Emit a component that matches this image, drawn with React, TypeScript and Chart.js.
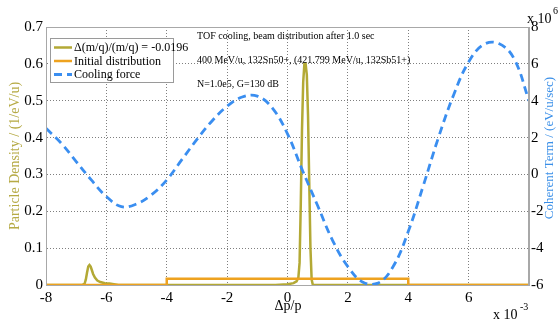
import React, { useEffect, useRef } from "react";
import { Chart, registerables } from "chart.js";
Chart.register(...registerables);

// ---- data ----
const xTickValues = [-8, -6, -4, -2, 0, 2, 4, 6, 8];
const xTickLabels = ["-8", "-6", "-4", "-2", "0", "2", "4", "6", ""];

// Cooling force (units of 1e6 eV/u/sec), right axis
const forceX = [-8, -7.5, -7, -6.5, -6, -5.5, -5, -4.5, -4, -3.5, -3, -2.5, -2, -1.5, -1, -0.5, 0, 0.5, 1, 1.5, 2, 2.5, 3, 3.5, 4, 4.5, 5, 5.5, 6, 6.5, 7, 7.5, 8];
const forceY = [2.5, 1.7, 0.7, -0.3, -1.2, -1.75, -1.6, -1.1, -0.3, 0.8, 1.9, 2.9, 3.7, 4.2, 4.25, 3.6, 2.2, 0.2, -1.7, -3.6, -5.0, -5.85, -5.9, -5.0, -3.1, -0.6, 2.0, 4.3, 6.1, 7.05, 7.1, 6.3, 4.0];

// Shifted distribution Δ(m/q)/(m/q) = -0.0196, left axis
const shiftedX = [-8, -6.8, -6.72, -6.68, -6.64, -6.6, -6.56, -6.52, -6.48, -6.44, -6.38, -6.3, -6.2, -6.05, -5.9, -5.75, -5.6, -0.4, 0.0, 0.2, 0.3, 0.36, 0.4, 0.44, 0.48, 0.52, 0.56, 0.6, 0.64, 0.68, 0.72, 0.76, 0.8, 0.84, 8];
const shiftedY = [0, 0, 0.004, 0.015, 0.034, 0.05, 0.054, 0.05, 0.04, 0.03, 0.02, 0.012, 0.008, 0.005, 0.004, 0.002, 0, 0, 0.002, 0.005, 0.01, 0.02, 0.06, 0.22, 0.42, 0.55, 0.6, 0.6, 0.57, 0.46, 0.28, 0.1, 0.015, 0, 0];

// Initial distribution, left axis
const initialX = [-8, -4, -4, 4, 4, 8];
const initialY = [0, 0, 0.017, 0.017, 0, 0];

const seriesLabels = ["\u0394(m/q)/(m/q) = -0.0196", "Initial distribution", "Cooling force"];
const annotations = [
  "TOF cooling, beam distribution after 1.0 sec",
  "400 MeV/u, 132Sn50+, (421.799 MeV/u, 132Sb51+)",
  "N=1.0e5, G=130 dB",
];

const OLIVE = "#b3a935";
const ORANGE = "#eea21f";
const BLUE = "#3a8ef0";
const SERIF = "'Liberation Serif', 'DejaVu Serif', serif";

const toPts = (xs: number[], ys: number[]) => xs.map((x, i) => ({ x, y: ys[i] }));

const overlay = {
  id: "overlay",
  afterDraw(chart: any) {
    const { ctx, chartArea: a } = chart;
    ctx.save();
    // frame
    ctx.strokeStyle = "#a8a8a8";
    ctx.lineWidth = 1;
    ctx.setLineDash([]);
    ctx.strokeRect(a.left + 0.5, a.top + 0.5, a.right - a.left - 1, a.bottom - a.top);

    // annotations
    ctx.fillStyle = "#000";
    ctx.font = `10px ${SERIF}`;
    ctx.textAlign = "left";
    ctx.textBaseline = "alphabetic";
    const annY = [38.5, 63, 87];
    annotations.forEach((t, i) => ctx.fillText(t, 197, annY[i]));

    // legend
    const lx = 50, ly = 38, lw = 123, lh = 44;
    ctx.fillStyle = "#fff";
    ctx.fillRect(lx, ly, lw, lh);
    ctx.strokeStyle = "#9a9a9a";
    ctx.strokeRect(lx + 0.5, ly + 0.5, lw, lh);
    ctx.font = `12px ${SERIF}`;
    ctx.textBaseline = "middle";
    chart.data.datasets.forEach((ds: any, i: number) => {
      const cy = 47.5 + i * 13.5;
      ctx.strokeStyle = ds.borderColor;
      ctx.lineWidth = ds.borderWidth;
      ctx.setLineDash(ds.borderDash || []);
      ctx.beginPath();
      ctx.moveTo(54, cy);
      ctx.lineTo(72, cy);
      ctx.stroke();
      ctx.setLineDash([]);
      ctx.fillStyle = "#000";
      ctx.fillText(ds.label, 74, cy + 0.5);
    });

    // axis titles
    ctx.textAlign = "center";
    ctx.textBaseline = "middle";
    ctx.fillStyle = "#000";
    ctx.font = `14px ${SERIF}`;
    ctx.fillText("\u0394p/p", 288, 306);

    ctx.save();
    ctx.translate(15, 156);
    ctx.rotate(-Math.PI / 2);
    ctx.fillStyle = "#b6aa45";
    ctx.font = `14px ${SERIF}`;
    ctx.fillText("Particle Density / (1/eV/u)", 0, 0);
    ctx.restore();

    ctx.save();
    ctx.translate(550, 148);
    ctx.rotate(-Math.PI / 2);
    ctx.fillStyle = "#3a8fe8";
    ctx.font = `13px ${SERIF}`;
    ctx.fillText("Coherent Term / (eV/u/sec)", 0, 0);
    ctx.restore();

    // multipliers
    ctx.textAlign = "left";
    ctx.textBaseline = "alphabetic";
    ctx.fillStyle = "#000";
    ctx.font = `14px ${SERIF}`;
    ctx.fillText("x 10", 493, 319);
    ctx.font = `10px ${SERIF}`;
    ctx.fillText("-3", 520, 310);
    ctx.font = `14px ${SERIF}`;
    ctx.fillText("x 10", 527, 23);
    ctx.font = `10px ${SERIF}`;
    ctx.fillText("6", 553, 14);
    ctx.restore();
  },
};

export default function App() {
  const ref = useRef<HTMLCanvasElement>(null);
  useEffect(() => {
    if (!ref.current) return;
    const gridCommon = { color: "rgba(0,0,0,0.5)", lineWidth: 1, drawTicks: false };
    const chart = new Chart(ref.current, {
      type: "line",
      data: {
        datasets: [
          {
            label: seriesLabels[0],
            data: toPts(shiftedX, shiftedY),
            borderColor: OLIVE,
            borderWidth: 2.5,
            pointRadius: 0,
            tension: 0,
            yAxisID: "y",
            order: 2,
          },
          {
            label: seriesLabels[1],
            data: toPts(initialX, initialY),
            borderColor: ORANGE,
            borderWidth: 2.5,
            pointRadius: 0,
            tension: 0,
            yAxisID: "y",
            order: 1,
          },
          {
            label: seriesLabels[2],
            data: toPts(forceX, forceY),
            borderColor: BLUE,
            borderWidth: 2.8,
            borderDash: [8, 5],
            pointRadius: 0,
            tension: 0.4,
            yAxisID: "y1",
            order: 0,
          },
        ],
      },
      options: {
        animation: false,
        responsive: false,
        devicePixelRatio: 1,
        layout: { padding: { top: 27, left: 0, right: 0, bottom: 0 } },
        plugins: { legend: { display: false }, tooltip: { enabled: false }, title: { display: false } },
        scales: {
          x: {
            type: "linear",
            min: -8,
            max: 8,
            afterBuildTicks: (s: any) => {
              s.ticks = xTickValues.map((v) => ({ value: v }));
            },
            afterFit: (s: any) => {
              s.height = 37;
            },
            ticks: {
              color: "#000",
              font: { family: SERIF, size: 15 },
              padding: 4,
              maxRotation: 0,
              callback: (v: any) => xTickLabels[xTickValues.indexOf(Number(v))] ?? "",
            },
            grid: gridCommon,
            border: { color: "#888", dash: [1, 2] },
          },
          y: {
            type: "linear",
            position: "left",
            min: 0,
            max: 0.7,
            ticks: {
              stepSize: 0.1,
              color: "#000",
              font: { family: SERIF, size: 15 },
              padding: 3,
              callback: (v: any) => (Math.abs(Number(v)) < 1e-9 ? "0" : Number(v).toFixed(1)),
            },
            afterFit: (s: any) => {
              s.width = 46;
            },
            grid: gridCommon,
            border: { color: "#888", dash: [1, 2] },
          },
          y1: {
            type: "linear",
            position: "right",
            min: -6,
            max: 8,
            ticks: {
              stepSize: 2,
              color: "#000",
              font: { family: SERIF, size: 15 },
              padding: 2,
            },
            afterFit: (s: any) => {
              s.width = 29;
            },
            grid: { display: false, drawTicks: false },
            border: { color: "#a8a8a8" },
          },
        },
      },
      plugins: [overlay],
    } as any);
    return () => chart.destroy();
  }, []);
  return (
    <div style={{ position: "absolute", left: 0, top: 0, width: 558, height: 322, background: "#fff" }}>
      <canvas ref={ref} width={558} height={322} style={{ width: 558, height: 322 }} />
    </div>
  );
}
